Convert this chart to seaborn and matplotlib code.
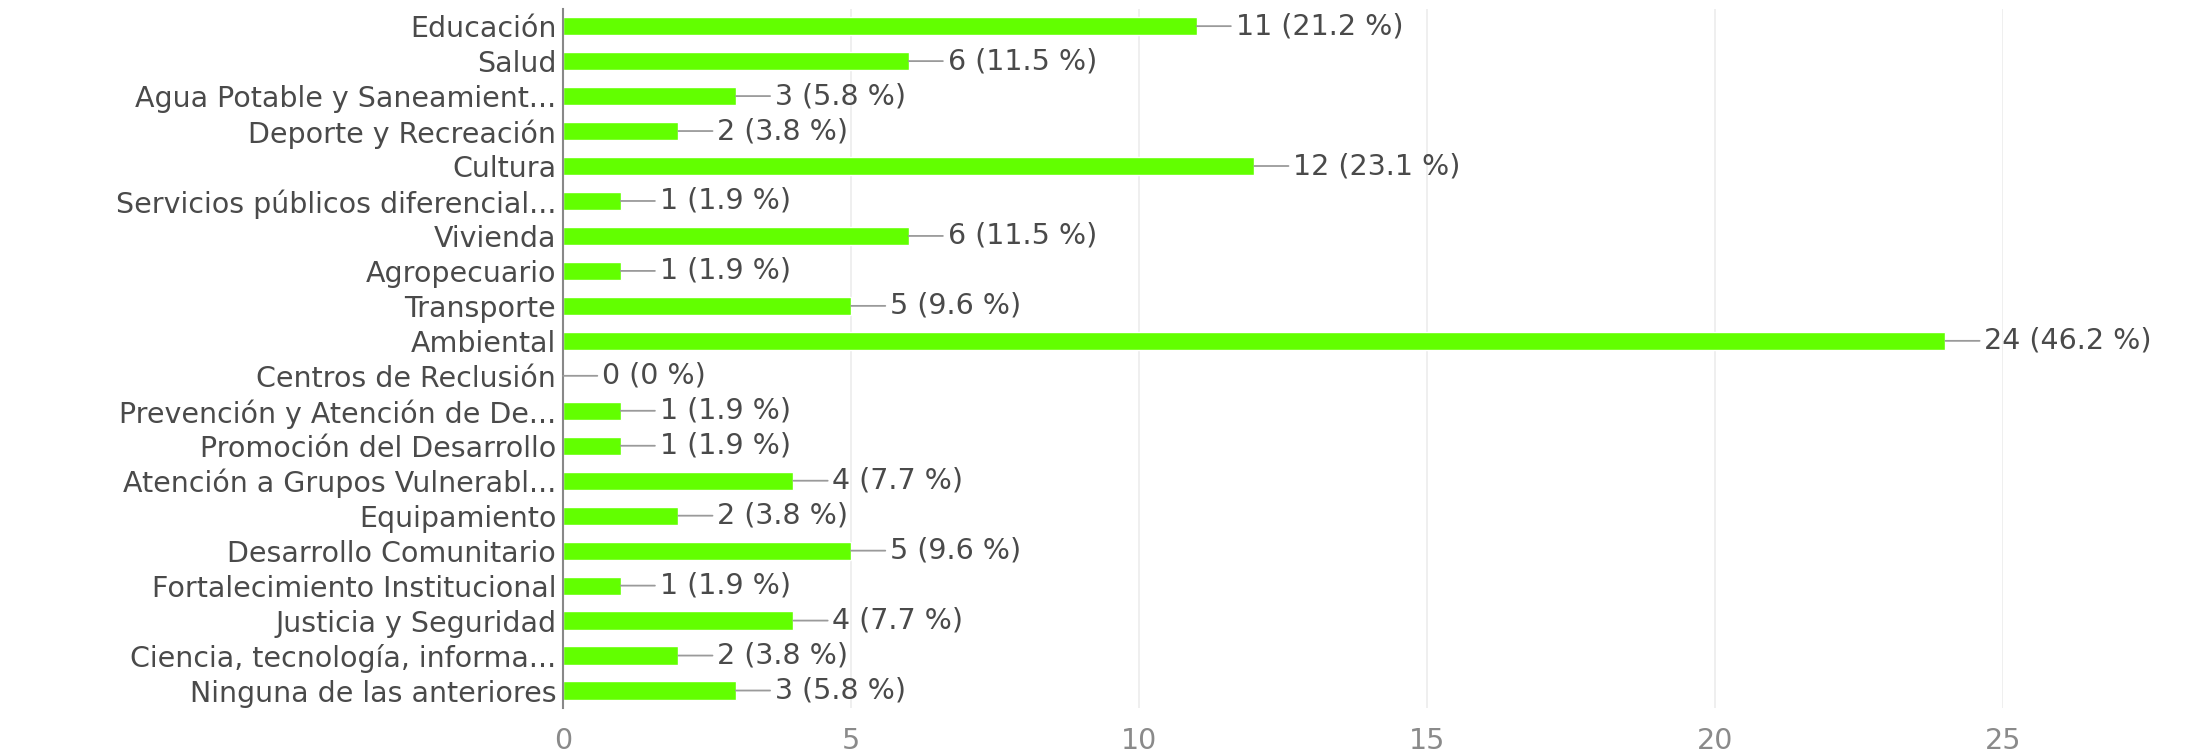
import matplotlib
matplotlib.use("Agg")
import matplotlib.pyplot as plt
import seaborn as sns

categorias = [
    "Educación", "Salud", "Agua Potable y Saneamient...", "Deporte y Recreación",
    "Cultura", "Servicios públicos diferencial...", "Vivienda", "Agropecuario",
    "Transporte", "Ambiental", "Centros de Reclusión", "Prevención y Atención de De...",
    "Promoción del Desarrollo", "Atención a Grupos Vulnerabl...", "Equipamiento",
    "Desarrollo Comunitario", "Fortalecimiento Institucional", "Justicia y Seguridad",
    "Ciencia, tecnología, informa...", "Ninguna de las anteriores",
]
respuestas = [11, 6, 3, 2, 12, 1, 6, 1, 5, 24, 0, 1, 1, 4, 2, 5, 1, 4, 2, 3]
porcentajes = ["21.2", "11.5", "5.8", "3.8", "23.1", "1.9", "11.5", "1.9", "9.6", "46.2",
               "0", "1.9", "1.9", "7.7", "3.8", "9.6", "1.9", "7.7", "3.8", "5.8"]
ticks_x = [0, 5, 10, 15, 20, 25]

sns.set_theme(style="white")
plt.rcParams['font.family'] = ['DejaVu Sans']

fig = plt.figure(figsize=(22.03, 7.52), dpi=100)
ax = fig.add_axes([0.2556, 0.0585, 0.6536, 0.930])

sns.barplot(x=respuestas, y=categorias, orient="h", color="#62ff00",
            saturation=1, width=0.52, ax=ax)

# etiquetas con línea guía
for i, (v, p) in enumerate(zip(respuestas, porcentajes)):
    ax.annotate("{} ({} %)".format(v, p), xy=(v, i), xytext=(28, 0),
                textcoords="offset points", ha="left", va="center",
                fontsize=20.5, color="#4a4a4a",
                arrowprops=dict(arrowstyle="-", color="#9a9a9a", lw=1.3,
                                shrinkA=1, shrinkB=0))

ax.set_xlim(0, 25)
ax.set_ylim(len(categorias) - 0.5, -0.5)
ax.set_xticks(ticks_x)
ax.set_xticklabels([str(t) for t in ticks_x])
ax.xaxis.grid(True, color="#ececec", lw=1.2)
ax.set_axisbelow(True)
ax.tick_params(axis="x", length=0, pad=14, labelsize=20.5, labelcolor="#8a8a8a")
ax.tick_params(axis="y", length=0, pad=5, labelsize=20.5, labelcolor="#4a4a4a")
for s in ["top", "right", "bottom"]:
    ax.spines[s].set_visible(False)
ax.spines["left"].set_color("#888888")
ax.spines["left"].set_linewidth(1.5)
ax.set_xlabel("")
ax.set_ylabel("")

fig.savefig("out.png", dpi=100)
